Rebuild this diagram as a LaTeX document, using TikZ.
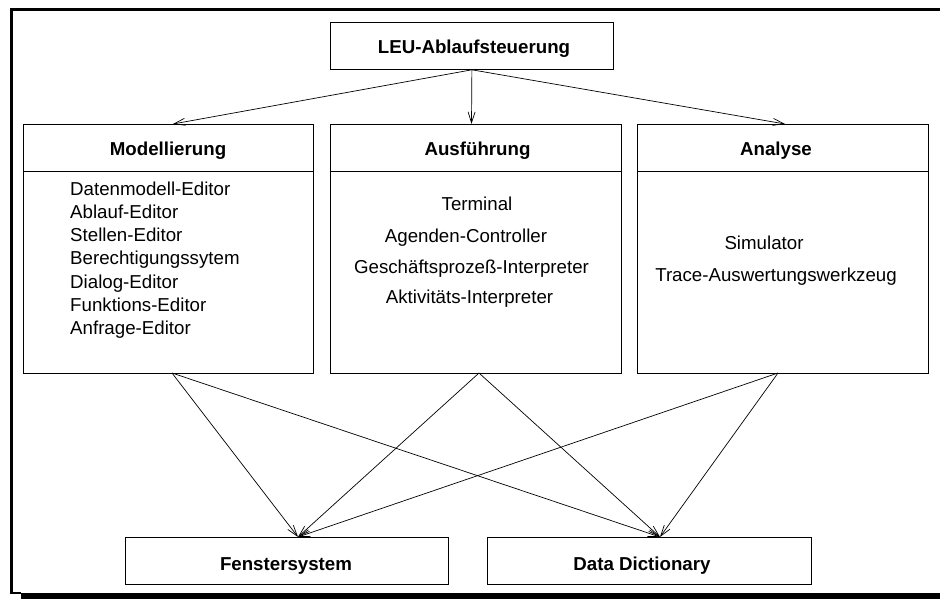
\documentclass[tikz,border=0pt]{standalone}
\usepackage{fontspec}
\setmainfont{Liberation Sans}
\usetikzlibrary{arrows.meta}
\begin{document}
\begin{tikzpicture}[x=1pt,y=-1pt,
  box/.style={draw, line width=0.8pt, inner sep=0pt, anchor=north west},
  txt/.style={font=\fontsize{18.7}{22}\selectfont, inner sep=0pt},
  hdr/.style={font=\fontsize{18.7}{22}\selectfont\bfseries, inner sep=0pt, anchor=base},
  item/.style={txt, anchor=base west},
  citem/.style={txt, anchor=base},
  conn/.style={line width=0.7pt, -{Straight Barb[length=11pt,width=7pt,line width=0.7pt]}}]
\path[use as bounding box, clip] (0,0) rectangle (940,599);

% outer frame with drop shadow
\fill (21,593) rectangle (960,610);
\draw[line width=2.7pt] (960,9.7) -- (11.5,9.7) -- (11.5,593) -- (21,593);

% control box
\node[box, minimum width=283pt, minimum height=47pt] (leu) at (330,22) {};
\node[hdr] (leut) at (474,54) {LEU-Ablaufsteuerung};

% three component boxes
\node[box, minimum width=290pt, minimum height=249pt] (mod) at (23,124) {};
\node[box, minimum width=291pt, minimum height=249pt] (aus) at (330,124) {};
\node[box, minimum width=291pt, minimum height=249pt] (ana) at (637,124) {};
\foreach \b in {mod,aus,ana}
  \draw[line width=0.8pt] ([yshift=-47pt]\b.north west) -- ([yshift=-47pt]\b.north east);

\node[hdr] (modh) at (168,155.5) {Modellierung};
\node[hdr] (aush) at (477.5,155.5) {Ausführung};
\node[hdr] (anah) at (776,155.5) {Analyse};

% Modellierung tools
\node[item] (m1) at (70,195) {Datenmodell-Editor};
\node[item] (m2) at (70,218.3) {Ablauf-Editor};
\node[item] (m3) at (70,241.6) {Stellen-Editor};
\node[item] (m4) at (70,264.9) {Berechtigungssytem};
\node[item] (m5) at (70,288.2) {Dialog-Editor};
\node[item] (m6) at (70,311.5) {Funktions-Editor};
\node[item] (m7) at (70,334.8) {Anfrage-Editor};

% Ausfuehrung tools
\node[citem] (a1) at (477,210) {Terminal};
\node[citem] (a2) at (466,242) {Agenden-Controller};
\node[citem] (a3) at (471.5,273.5) {Geschäftsprozeß-Interpreter};
\node[citem] (a4) at (469.5,303.5) {Aktivitäts-Interpreter};

% Analyse tools
\node[citem] (s1) at (764,249.5) {Simulator};
\node[citem] (s2) at (776,281.7) {Trace-Auswertungswerkzeug};

% base services
\node[box, minimum width=323pt, minimum height=47pt] (fen) at (125,537) {};
\node[box, minimum width=324pt, minimum height=47pt] (dd) at (487,537) {};
\node[hdr] (fent) at (286,570) {Fenstersystem};
\node[hdr] (ddt) at (642,570) {Data Dictionary};

% connector end points on the box edges
\coordinate (modin) at (173,124);
\coordinate (ausin) at (471.5,124);
\coordinate (anain) at (785,124);
\coordinate (modout) at (172,373);
\coordinate (ausout) at (479,373);
\coordinate (anaout) at (778,373);
\coordinate (fenin) at (298,537);
\coordinate (ddin) at (660,537);

\draw[conn] (leu.south) -- (modin);
\draw[conn] (leu.south) -- (ausin);
\draw[conn] (leu.south) -- (anain);

\foreach \s in {modout,ausout,anaout}{
  \draw[conn] (\s) -- (fenin);
  \draw[conn] (\s) -- (ddin);
}
\end{tikzpicture}
\end{document}
